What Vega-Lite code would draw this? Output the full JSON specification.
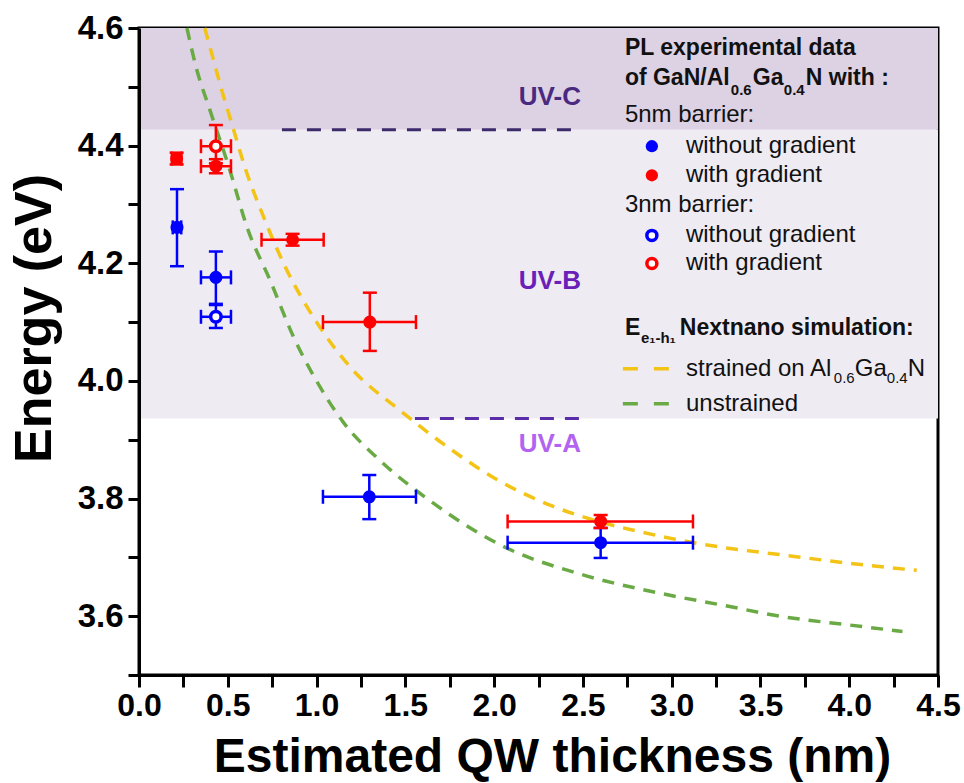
{
  "$schema": "https://vega.github.io/schema/vega-lite/v6.json",
  "width": 799,
  "height": 647,
  "autosize": "none",
  "padding": {"left": 139, "top": 28, "right": 26, "bottom": 108},
  "background": "white",
  "config": {
    "view": {"stroke": "black", "strokeWidth": 3},
    "font": "Liberation Sans"
  },
  "datasets": {
    "bands": [
      {"band": "UV-C", "lo": 4.427, "hi": 4.6},
      {"band": "UV-B", "lo": 3.936, "hi": 4.427}
    ],
    "uvlines": [
      {"band": "UV-C", "x": 0.805, "x2": 2.494, "y": 4.427},
      {"band": "UV-A/B", "x": 1.554, "x2": 2.494, "y": 3.936}
    ],
    "uvlabels": [
      {"band": "UV-C", "x": 2.314, "y": 4.4825},
      {"band": "UV-B", "x": 2.314, "y": 4.1707},
      {"band": "UV-A", "x": 2.314, "y": 3.893}
    ],
    "curves": [
      {"curve": "strained", "x": 0.37, "y": 4.6},
      {"curve": "strained", "x": 0.42, "y": 4.545},
      {"curve": "strained", "x": 0.47, "y": 4.49},
      {"curve": "strained", "x": 0.52, "y": 4.44},
      {"curve": "strained", "x": 0.6, "y": 4.36},
      {"curve": "strained", "x": 0.7, "y": 4.28},
      {"curve": "strained", "x": 0.83, "y": 4.19},
      {"curve": "strained", "x": 1.0, "y": 4.1},
      {"curve": "strained", "x": 1.2, "y": 4.02},
      {"curve": "strained", "x": 1.47, "y": 3.95},
      {"curve": "strained", "x": 1.75, "y": 3.885},
      {"curve": "strained", "x": 2.0, "y": 3.835},
      {"curve": "strained", "x": 2.33, "y": 3.787},
      {"curve": "strained", "x": 2.6, "y": 3.76},
      {"curve": "strained", "x": 2.8, "y": 3.745},
      {"curve": "strained", "x": 3.16, "y": 3.723},
      {"curve": "strained", "x": 3.68, "y": 3.702},
      {"curve": "strained", "x": 4.0, "y": 3.69},
      {"curve": "strained", "x": 4.38, "y": 3.678},
      {"curve": "unstrained", "x": 0.27, "y": 4.6},
      {"curve": "unstrained", "x": 0.32, "y": 4.535},
      {"curve": "unstrained", "x": 0.4, "y": 4.46},
      {"curve": "unstrained", "x": 0.51, "y": 4.36},
      {"curve": "unstrained", "x": 0.61, "y": 4.26},
      {"curve": "unstrained", "x": 0.74, "y": 4.17},
      {"curve": "unstrained", "x": 0.87, "y": 4.075},
      {"curve": "unstrained", "x": 1.0, "y": 4.0},
      {"curve": "unstrained", "x": 1.15, "y": 3.93},
      {"curve": "unstrained", "x": 1.36, "y": 3.864},
      {"curve": "unstrained", "x": 1.64, "y": 3.796},
      {"curve": "unstrained", "x": 2.07, "y": 3.716},
      {"curve": "unstrained", "x": 2.48, "y": 3.672},
      {"curve": "unstrained", "x": 2.95, "y": 3.638},
      {"curve": "unstrained", "x": 3.3, "y": 3.618},
      {"curve": "unstrained", "x": 3.61, "y": 3.6},
      {"curve": "unstrained", "x": 4.0, "y": 3.585},
      {"curve": "unstrained", "x": 4.3, "y": 3.574}
    ],
    "legendlines": [
      {"curve": "strained", "x": 2.7252, "y": 4.0208},
      {"curve": "strained", "x": 2.9899, "y": 4.0208},
      {"curve": "unstrained", "x": 2.7252, "y": 3.9612},
      {"curve": "unstrained", "x": 2.9899, "y": 3.9612}
    ],
    "points": [
      {"barrier": "5nm", "grad": "without gradient", "x": 0.214, "y": 4.261, "xlo": 0.19, "xhi": 0.238, "ylo": 4.195, "yhi": 4.326},
      {"barrier": "5nm", "grad": "without gradient", "x": 0.433, "y": 4.176, "xlo": 0.349, "xhi": 0.518, "ylo": 4.131, "yhi": 4.22},
      {"barrier": "5nm", "grad": "without gradient", "x": 1.297, "y": 3.803, "xlo": 1.036, "xhi": 1.56, "ylo": 3.765, "yhi": 3.84},
      {"barrier": "5nm", "grad": "without gradient", "x": 2.6, "y": 3.725, "xlo": 2.076, "xhi": 3.12, "ylo": 3.699, "yhi": 3.75},
      {"barrier": "5nm", "grad": "with gradient", "x": 0.212, "y": 4.378, "xlo": 0.185, "xhi": 0.239, "ylo": 4.368, "yhi": 4.388},
      {"barrier": "5nm", "grad": "with gradient", "x": 0.433, "y": 4.365, "xlo": 0.349, "xhi": 0.518, "ylo": 4.353, "yhi": 4.377},
      {"barrier": "5nm", "grad": "with gradient", "x": 0.865, "y": 4.24, "xlo": 0.69, "xhi": 1.04, "ylo": 4.23, "yhi": 4.25},
      {"barrier": "5nm", "grad": "with gradient", "x": 1.3, "y": 4.1, "xlo": 1.036, "xhi": 1.56, "ylo": 4.051, "yhi": 4.15},
      {"barrier": "5nm", "grad": "with gradient", "x": 2.6, "y": 3.761, "xlo": 2.076, "xhi": 3.12, "ylo": 3.75, "yhi": 3.772},
      {"barrier": "3nm", "grad": "without gradient", "x": 0.433, "y": 4.109, "xlo": 0.349, "xhi": 0.518, "ylo": 4.09, "yhi": 4.129},
      {"barrier": "3nm", "grad": "with gradient", "x": 0.433, "y": 4.399, "xlo": 0.349, "xhi": 0.518, "ylo": 4.37, "yhi": 4.435}
    ],
    "legendsymbols": [
      {"barrier": "5nm", "grad": "without gradient", "x": 2.8885, "y": 4.399},
      {"barrier": "5nm", "grad": "with gradient", "x": 2.8885, "y": 4.3496},
      {"barrier": "3nm", "grad": "without gradient", "x": 2.8885, "y": 4.2474},
      {"barrier": "3nm", "grad": "with gradient", "x": 2.8885, "y": 4.1997}
    ],
    "boldtext": [
      {"t": "PL experimental data", "x": 2.7365, "y": 4.5659},
      {"t": "of GaN/Al", "x": 2.7365, "y": 4.5148},
      {"t": "Ga", "x": 3.4572, "y": 4.5148},
      {"t": "N with :", "x": 3.7556, "y": 4.5148},
      {"t": "E", "x": 2.7365, "y": 4.0906},
      {"t": "Nextnano simulation:", "x": 3.0462, "y": 4.0906}
    ],
    "boldsub": [
      {"t": "0.6", "x": 3.3333, "y": 4.4944},
      {"t": "0.4", "x": 3.6318, "y": 4.4944},
      {"t": "e₁-h₁", "x": 2.8266, "y": 4.0736}
    ],
    "regtext": [
      {"t": "5nm barrier:", "x": 2.7365, "y": 4.4518},
      {"t": "without gradient", "x": 3.0805, "y": 4.399},
      {"t": "with gradient", "x": 3.0805, "y": 4.3496},
      {"t": "3nm barrier:", "x": 2.7365, "y": 4.2985},
      {"t": "without gradient", "x": 3.0805, "y": 4.2474},
      {"t": "with gradient", "x": 3.0805, "y": 4.1997},
      {"t": "strained on Al", "x": 3.0805, "y": 4.0208},
      {"t": "Ga", "x": 4.0315, "y": 4.0208},
      {"t": "N", "x": 4.33, "y": 4.0208},
      {"t": "unstrained", "x": 3.0805, "y": 3.9612}
    ],
    "regsub": [
      {"t": "0.6", "x": 3.9133, "y": 4.0055},
      {"t": "0.4", "x": 4.2117, "y": 4.0055}
    ]
  },
  "layer": [
    {
      "data": {"name": "bands"},
      "mark": {"type": "rect"},
      "encoding": {
        "y": {
          "field": "lo", "type": "quantitative",
          "scale": {"domain": [3.5, 4.6], "nice": false, "zero": false},
          "axis": {
            "title": "Energy (eV)",
            "values": [3.5, 3.6, 3.7, 3.8, 3.9, 4.0, 4.1, 4.2, 4.3, 4.4, 4.5, 4.6],
            "labelExpr": "round(datum.value*10) % 2 == 0 ? format(datum.value, '.1f') : ''",
            "labelFont": "Liberation Sans", "labelFontWeight": "bold", "labelFontSize": 33, "labelColor": "black",
            "labelPadding": 5, "labelOverlap": false, "labelFlush": false,
            "ticks": true, "tickSize": 11,
            "tickWidth": 3, "tickColor": "black",
            "domainColor": "black", "domainWidth": 3, "grid": false, "zindex": 1,
            "titleFont": "Liberation Sans", "titleFontWeight": "bold", "titleFontSize": 52, "titleColor": "black",
            "titleX": -105, "titleY": 290, "titleBaseline": "middle", "titleAlign": "center", "titleAngle": -90
          }
        },
        "y2": {"field": "hi"},
        "color": {"field": "band", "type": "nominal", "scale": {"domain": ["UV-C", "UV-B"], "range": ["#dcd2e3", "#eeebf3"]}, "legend": null}
      }
    },
    {
      "data": {"name": "uvlines"},
      "mark": {"type": "rule", "strokeWidth": 3, "strokeDash": [14, 11]},
      "encoding": {
        "x": {"field": "x", "type": "quantitative"},
        "x2": {"field": "x2"},
        "y": {"field": "y", "type": "quantitative"},
        "color": {"field": "band", "type": "nominal", "scale": {"domain": ["UV-C", "UV-A/B"], "range": ["#3d2a6b", "#5a2ca8"]}, "legend": null}
      }
    },
    {
      "data": {"name": "uvlabels"},
      "mark": {"type": "text", "font": "Liberation Sans", "fontWeight": "bold", "fontSize": 26, "align": "center", "baseline": "middle"},
      "encoding": {
        "x": {"field": "x", "type": "quantitative"},
        "y": {"field": "y", "type": "quantitative"},
        "text": {"field": "band"},
        "color": {"field": "band", "type": "nominal", "scale": {"domain": ["UV-C", "UV-B", "UV-A"], "range": ["#4a2a80", "#6a1fb8", "#b264f0"]}, "legend": null}
      }
    },
    {
      "data": {"name": "curves"},
      "mark": {"type": "line", "strokeWidth": 3.5, "strokeDash": [12, 9], "interpolate": "monotone"},
      "encoding": {
        "x": {
          "field": "x", "type": "quantitative",
          "scale": {"domain": [0, 4.5], "nice": false, "zero": false},
          "axis": {
            "title": "Estimated QW thickness (nm)",
            "values": [0, 0.25, 0.5, 0.75, 1.0, 1.25, 1.5, 1.75, 2.0, 2.25, 2.5, 2.75, 3.0, 3.25, 3.5, 3.75, 4.0, 4.25, 4.5],
            "labelExpr": "round(datum.value*4) % 2 == 0 ? format(datum.value, '.1f') : ''",
            "labelFont": "Liberation Sans", "labelFontWeight": "bold", "labelFontSize": 32, "labelColor": "black",
            "labelPadding": 3, "labelOverlap": false, "labelFlush": false,
            "ticks": true, "tickSize": 12,
            "tickWidth": 3, "tickColor": "black",
            "domainColor": "black", "domainWidth": 3, "grid": false, "zindex": 1,
            "titleFont": "Liberation Sans", "titleFontWeight": "bold", "titleFontSize": 48, "titleColor": "black",
            "titleX": 413, "titleY": 82, "titleBaseline": "middle", "titleAlign": "center"
          }
        },
        "y": {"field": "y", "type": "quantitative"},
        "color": {"field": "curve", "type": "nominal", "scale": {"domain": ["strained", "unstrained"], "range": ["#f3c316", "#6aaa45"]}, "legend": null}
      }
    },
    {
      "data": {"name": "legendlines"},
      "mark": {"type": "line", "strokeWidth": 3.5, "strokeDash": [15, 16]},
      "encoding": {
        "x": {"field": "x", "type": "quantitative"},
        "y": {"field": "y", "type": "quantitative"},
        "detail": {"field": "curve"},
        "color": {"field": "curve", "type": "nominal", "scale": {"domain": ["strained", "unstrained"], "range": ["#f3c316", "#6aaa45"]}, "legend": null}
      }
    },
    {
      "data": {"name": "points"},
      "mark": {"type": "rule", "strokeWidth": 2.5},
      "encoding": {
        "x": {"field": "x", "type": "quantitative"},
        "y": {"field": "ylo", "type": "quantitative"},
        "y2": {"field": "yhi"},
        "color": {"field": "grad", "type": "nominal", "scale": {"domain": ["without gradient", "with gradient"], "range": ["#0000ff", "#ff0000"]}, "legend": null}
      }
    },
    {
      "data": {"name": "points"},
      "mark": {"type": "rule", "strokeWidth": 2.5},
      "encoding": {
        "x": {"field": "xlo", "type": "quantitative"},
        "x2": {"field": "xhi"},
        "y": {"field": "y", "type": "quantitative"},
        "color": {"field": "grad", "type": "nominal", "scale": {"domain": ["without gradient", "with gradient"], "range": ["#0000ff", "#ff0000"]}, "legend": null}
      }
    },
    {
      "data": {"name": "points"},
      "transform": [{"fold": ["ylo", "yhi"], "as": ["end", "yv"]}],
      "mark": {"type": "point", "shape": "M-1,0L1,0", "size": 196, "strokeWidth": 2.5, "filled": false, "opacity": 1},
      "encoding": {
        "x": {"field": "x", "type": "quantitative"},
        "y": {"field": "yv", "type": "quantitative"},
        "color": {"field": "grad", "type": "nominal", "scale": {"domain": ["without gradient", "with gradient"], "range": ["#0000ff", "#ff0000"]}, "legend": null}
      }
    },
    {
      "data": {"name": "points"},
      "transform": [{"fold": ["xlo", "xhi"], "as": ["end", "xv"]}],
      "mark": {"type": "point", "shape": "M0,-1L0,1", "size": 196, "strokeWidth": 2.5, "filled": false, "opacity": 1},
      "encoding": {
        "x": {"field": "xv", "type": "quantitative"},
        "y": {"field": "y", "type": "quantitative"},
        "color": {"field": "grad", "type": "nominal", "scale": {"domain": ["without gradient", "with gradient"], "range": ["#0000ff", "#ff0000"]}, "legend": null}
      }
    },
    {
      "data": {"name": "points"},
      "transform": [{"filter": "datum.barrier == '5nm'"}],
      "mark": {"type": "point", "shape": "circle", "size": 170, "filled": true, "opacity": 1},
      "encoding": {
        "x": {"field": "x", "type": "quantitative"},
        "y": {"field": "y", "type": "quantitative"},
        "color": {"field": "grad", "type": "nominal", "scale": {"domain": ["without gradient", "with gradient"], "range": ["#0000ff", "#ff0000"]}, "legend": null}
      }
    },
    {
      "data": {"name": "points"},
      "transform": [{"filter": "datum.barrier == '3nm'"}],
      "mark": {"type": "point", "shape": "circle", "size": 110, "fill": "white", "filled": true, "strokeWidth": 3.5, "opacity": 1},
      "encoding": {
        "x": {"field": "x", "type": "quantitative"},
        "y": {"field": "y", "type": "quantitative"},
        "stroke": {"field": "grad", "type": "nominal", "scale": {"domain": ["without gradient", "with gradient"], "range": ["#0000ff", "#ff0000"]}, "legend": null}
      }
    },
    {
      "data": {"name": "legendsymbols"},
      "transform": [{"filter": "datum.barrier == '5nm'"}],
      "mark": {"type": "point", "shape": "circle", "size": 150, "filled": true, "opacity": 1},
      "encoding": {
        "x": {"field": "x", "type": "quantitative"},
        "y": {"field": "y", "type": "quantitative"},
        "color": {"field": "grad", "type": "nominal", "scale": {"domain": ["without gradient", "with gradient"], "range": ["#0000ff", "#ff0000"]}, "legend": null}
      }
    },
    {
      "data": {"name": "legendsymbols"},
      "transform": [{"filter": "datum.barrier == '3nm'"}],
      "mark": {"type": "point", "shape": "circle", "size": 100, "fill": "white", "filled": true, "strokeWidth": 3.5, "opacity": 1},
      "encoding": {
        "x": {"field": "x", "type": "quantitative"},
        "y": {"field": "y", "type": "quantitative"},
        "stroke": {"field": "grad", "type": "nominal", "scale": {"domain": ["without gradient", "with gradient"], "range": ["#0000ff", "#ff0000"]}, "legend": null}
      }
    },
    {
      "data": {"name": "boldtext"},
      "mark": {"type": "text", "font": "Liberation Sans", "fontWeight": "bold", "fontSize": 23, "align": "left", "baseline": "middle", "color": "#111111"},
      "encoding": {
        "x": {"field": "x", "type": "quantitative"},
        "y": {"field": "y", "type": "quantitative"},
        "text": {"field": "t"}
      }
    },
    {
      "data": {"name": "boldsub"},
      "mark": {"type": "text", "font": "Liberation Sans", "fontWeight": "bold", "fontSize": 15, "align": "left", "baseline": "middle", "color": "#111111"},
      "encoding": {
        "x": {"field": "x", "type": "quantitative"},
        "y": {"field": "y", "type": "quantitative"},
        "text": {"field": "t"}
      }
    },
    {
      "data": {"name": "regtext"},
      "mark": {"type": "text", "font": "Liberation Sans", "fontSize": 24, "align": "left", "baseline": "middle", "color": "#111111"},
      "encoding": {
        "x": {"field": "x", "type": "quantitative"},
        "y": {"field": "y", "type": "quantitative"},
        "text": {"field": "t"}
      }
    },
    {
      "data": {"name": "regsub"},
      "mark": {"type": "text", "font": "Liberation Sans", "fontSize": 15, "align": "left", "baseline": "middle", "color": "#111111"},
      "encoding": {
        "x": {"field": "x", "type": "quantitative"},
        "y": {"field": "y", "type": "quantitative"},
        "text": {"field": "t"}
      }
    }
  ],
  "resolve": {"scale": {"color": "independent", "stroke": "independent"}}
}
